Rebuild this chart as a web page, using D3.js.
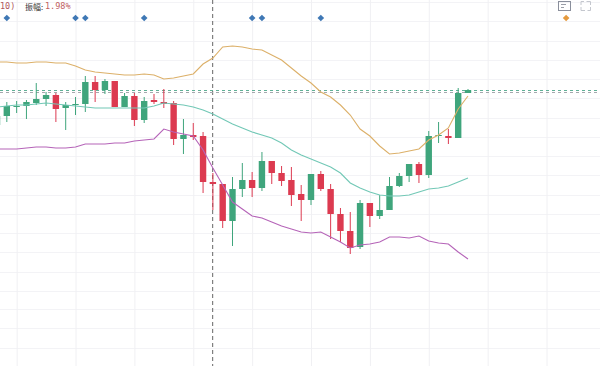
<!DOCTYPE html>
<html>
<head>
<meta charset="utf-8">
<script src="https://cdn.jsdelivr.net/npm/d3@7"></script>
<style>
  html, body { margin: 0; padding: 0; background: #fff; overflow: hidden; }
  svg { display: block; }
</style>
</head>
<body>
<div id="chart"></div>
<script>
// candles, one entry per session. green = close above open
const opens  = [241,250,259,260,263,267,271,258,261,262,284,276,285,259,270,246,266,264,263,227,231,230,184,182,145,177,186,178,205,193,186,172,166,192,177,152,135,119,163,150,156,180,190,202,191,230,230,228,273]
const closes = [250,260,260,264,267,271,257,261,262,284,276,285,259,270,246,265,264,262,227,231,229,184,182,145,177,186,178,205,193,185,171,166,192,177,152,135,118,163,150,156,180,190,202,191,230,231,228,273,276]
const highs  = [254,264,265,266,283,274,273,264,269,290,290,287,285,273,273,269,272,277,265,247,243,234,193,182,189,203,194,214,205,200,199,181,192,195,182,158,154,166,163,171,189,193,202,204,235,244,237,278,277]
const lows   = [239,244,253,247,261,260,244,236,251,254,264,272,259,259,240,243,262,258,221,212,226,173,156,138,120,169,169,175,182,180,160,145,161,175,127,124,112,117,139,147,156,179,184,183,188,223,222,228,273]

// bollinger bands
const upperBand  = [304,304,303,303,304,304,303,303,300,296,294,293,292,291,291,292,291,287,288,290,292,302,308,319,320,319,317,316,311,306,298,290,283,274,269,261,251,237,230,220,212,213,215,217,226,231,238,257,270]
const middleBand = [259,260,261,261,262,263,262,261,260,259,258,258,258,258,258,258,260,263,262,261,259,256,252,247,242,238,234,231,228,223,216,211,207,203,199,193,183,178,174,171,170,170,171,174,177,178,180,184,188]
const lowerBand  = [217,217,217,218,219,219,218,218,219,222,222,222,223,223,225,226,227,237,234,232,230,216,198,181,164,157,150,148,144,140,137,134,133,134,129,124,118,121,122,124,129,129,128,130,125,123,122,114,107]

// signal markers, by session index
const blueSignals = [1,8,9,15,26,27,33]
const orangeSignals = [58]

// grid
const gridSessions = [2,8,14,20,26,32,38,44,50,56]
const gridLevels = [364,345,325,306,287,268,248,229,210,191,171,152,133,114,94,75,57,38,18]

const crosshairSession = 21.98
const priceLines = [275.5, 273.5]

const width = 600, height = 366

const svg = d3.select("#chart").append("svg")
  .attr("width", width)
  .attr("height", height)
  .attr("viewBox", `0 0 ${width} ${height}`)

const xScale = d3.scaleLinear().domain([0, 48]).range([-3, 468])
const yScale = d3.scaleLinear().domain([0, 366]).range([366, 0])

// Grid
const gridY = svg.append("g")
  .call(d3.axisLeft(yScale).tickValues(gridLevels).tickSize(-width).tickFormat(""))
gridY.select(".domain").remove()
gridY.selectAll("line").attr("stroke", "#f3f3f6")

const gridX = svg.append("g")
  .attr("transform", `translate(0, ${height})`)
  .call(d3.axisBottom(xScale).tickValues(gridSessions).tickSize(-height).tickFormat(""))
gridX.select(".domain").remove()
gridX.selectAll("line").attr("stroke", "#f0f0f3")

// crosshair and last price lines
svg.append("line")
  .attr("x1", xScale(crosshairSession)).attr("x2", xScale(crosshairSession))
  .attr("y1", 0).attr("y2", height)
  .attr("stroke", "#666")
  .attr("stroke-dasharray", "4,3")

svg.selectAll(".price-line")
  .data(priceLines)
  .join("line")
  .attr("class", "price-line")
  .attr("x1", 0).attr("x2", width)
  .attr("y1", d => yScale(d)).attr("y2", d => yScale(d))
  .attr("stroke", (d, i) => i == 0 ? "#5fb096" : "#a5a8ad")
  .attr("stroke-dasharray", "3,3")

// Candles
const green = "#3fa57c", red = "#dc3a50"
const candles = d3.range(opens.length)
const candle = svg.append("g").selectAll("g")
  .data(candles)
  .join("g")
  .attr("stroke", i => closes[i] >= opens[i] ? green : red)
  .attr("fill", i => closes[i] >= opens[i] ? green : red)

candle.append("line")
  .attr("x1", i => xScale(i)).attr("x2", i => xScale(i))
  .attr("y1", i => yScale(highs[i])).attr("y2", i => yScale(lows[i]))

candle.append("rect")
  .attr("x", i => xScale(i) - 3.2)
  .attr("width", 6.4)
  .attr("y", i => yScale(Math.max(opens[i], closes[i])))
  .attr("height", i => Math.max(1, Math.abs(yScale(opens[i]) - yScale(closes[i]))))
  .attr("stroke", "none")

// Bands
const bandLine = d3.line()
  .x((d, i) => xScale(i))
  .y(d => yScale(d))

const bands = [[upperBand, "#dcb069"], [middleBand, "#72c8b6"], [lowerBand, "#b564b8"]]
for (const [values, colour] of bands) {
  svg.append("path")
    .datum(values)
    .attr("fill", "none")
    .attr("stroke", colour)
    .attr("stroke-width", 1.1)
    .attr("d", bandLine)
}

// Signals
const diamond = d3.symbol().type(d3.symbolSquare).size(22)
const signalY = 18
svg.selectAll(".blue")
  .data(blueSignals)
  .join("path")
  .attr("class", "blue")
  .attr("d", diamond)
  .attr("fill", "#3f78b5")
  .attr("transform", d => `translate(${xScale(d)}, ${signalY}) rotate(45)`)
svg.selectAll(".orange")
  .data(orangeSignals)
  .join("path")
  .attr("class", "orange")
  .attr("d", diamond)
  .attr("fill", "#e59a3f")
  .attr("transform", d => `translate(${xScale(d)}, ${signalY}) rotate(45)`)

// header text
const mono = "'DejaVu Sans Mono', monospace"
const head = svg.append("g").attr("font-size", 8.5)
head.append("text").attr("x", 0).attr("y", 8.5).attr("font-family", mono).attr("fill", "#b0575c").text("10)")
head.append("text").attr("x", 25).attr("y", 9.5).attr("font-size", 8).attr("font-family", "'Noto Sans CJK SC'").attr("fill", "#333").text("振幅:")
head.append("text").attr("x", 45).attr("y", 8.5).attr("font-family", mono).attr("fill", "#c0605f").text("1.98%")

// small toolbar icons
const icons = svg.append("g").attr("fill", "none").attr("stroke", "#8a8f9c")
icons.append("rect").attr("x", 558.5).attr("y", 1.5).attr("width", 12).attr("height", 9)
icons.append("path").attr("d", "M561,4.5h5M561,7.5h3").attr("stroke", "#9a9ea8")
icons.append("path").attr("d", "M581,5V1.5h3M590.5,7V10.5h-3M581,7V10.5h4M590.5,5V1.5h-4").attr("stroke", "#c4c7ce")
</script>
</body>
</html>
